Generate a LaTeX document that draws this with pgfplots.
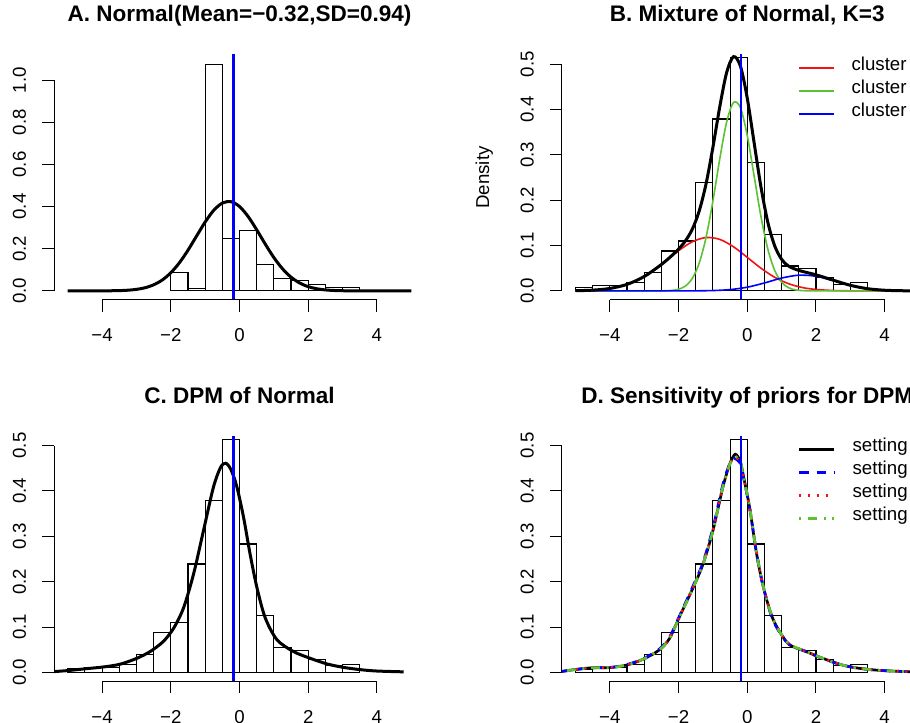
\documentclass[border=0pt]{standalone}
\usepackage{fontspec}
\setmainfont{Liberation Sans}
\usepackage{graphicx}
\usepackage{pgfplots}
\pgfplotsset{compat=1.18}
\definecolor{rred}{RGB}{240,20,20}
\definecolor{rgreen}{HTML}{5CC232}
\definecolor{rblue}{RGB}{0,0,255}

\pgfplotsset{
  rpanel/.style={
    scale only axis, width=278.25pt, height=183.75pt,
    xmin=-5.4, xmax=5.4,
    axis x line*=bottom, axis y line*=left,
    axis line style={draw=none},
    tick align=outside, major tick length=8.75pt,
    tick style={black, line width=0.75pt},
    xtick={-4,-2,0,2,4}, xticklabels={−4,−2,0,2,4},
    ticklabel style={font=\fontsize{14}{16}\selectfont},
    xticklabel style={anchor=base, yshift=-22.5pt},
    yticklabel style={anchor=east, inner sep=0pt, xshift=-12pt},
    title style={font=\bfseries\fontsize{16.9}{20}\selectfont, at={(0.5,1)}, anchor=base, yshift=18.75pt},
    clip mode=individual,
    legend style={draw=none, fill=none, at={(0.636,0.996)}, anchor=north west,
      font=\fontsize{14}{16}\selectfont, inner xsep=0pt, inner ysep=0pt, row sep=0pt,
      nodes={inner sep=0pt, text height=10.5pt, text depth=6.75pt},
      /tikz/every odd column/.append style={column sep=12.75pt}},
    legend cell align=left,
    legend image code/.code={\draw[##1] (0pt,0pt) -- (26.25pt,0pt);},
  },
  hist/.style={ybar interval, draw=black, fill=white, line width=0.85pt, forget plot},
  yhalf/.style={ymin=-0.02, ymax=0.52, ytick={0,0.1,0.2,0.3,0.4,0.5},
    yticklabels={\rotatebox{90}{0.0},\rotatebox{90}{0.1},\rotatebox{90}{0.2},\rotatebox{90}{0.3},\rotatebox{90}{0.4},\rotatebox{90}{0.5}}},
}

\begin{document}
\begin{tikzpicture}
\useasboundingbox (0,0) rectangle (682.5pt,-542.25pt);
\clip (0,0) rectangle (682.5pt,-542.25pt);

% ---------------- A ----------------
\begin{axis}[rpanel, at={(40.5pt,-225pt)}, anchor=south west,
  ymin=-0.0431, ymax=1.119, ytick={0,0.2,0.4,0.6,0.8,1.0},
  yticklabels={\rotatebox{90}{0.0},\rotatebox{90}{0.2},\rotatebox{90}{0.4},\rotatebox{90}{0.6},\rotatebox{90}{0.8},\rotatebox{90}{1.0}},
  title={A. Normal(Mean=−0.32,SD=0.94)}]
\addplot[hist] coordinates {(-2,0.089) (-1.5,0.013) (-1,1.075) (-0.5,0.249) (0,0.285) (0.5,0.125) (1,0.057) (1.5,0.048) (2,0.029) (2.5,0.015) (3,0.018) (3.5,0)};
\addplot[black, line width=2.25pt, smooth, forget plot] coordinates {
(-5,0) (-4.5,0) (-4,0.0002) (-3.5,0.0014) (-3.25,0.0033) (-3,0.0073) (-2.75,0.0150) (-2.5,0.0288) (-2.25,0.0516) (-2,0.0860) (-1.75,0.1334) (-1.5,0.1930) (-1.25,0.2602) (-1,0.3267) (-0.75,0.3823) (-0.5,0.4167) (-0.25,0.4232) (0,0.4005) (0.25,0.3531) (0.5,0.2901) (0.75,0.2220) (1,0.1583) (1.25,0.1052) (1.5,0.0651) (1.75,0.0376) (2,0.0202) (2.25,0.0101) (2.5,0.0047) (2.75,0.0020) (3,0.0008) (3.5,0.0001) (4,0) (4.5,0) (5,0)};
\addplot[rblue, line width=2pt, forget plot] coordinates {(-0.18,-1) (-0.18,2)};
\draw[line width=0.75pt] (axis cs:-4,-0.0431) -- (axis cs:4,-0.0431);
\draw[line width=0.75pt] (axis cs:-5.4,0) -- (axis cs:-5.4,1);
\end{axis}

% ---------------- B ----------------
\begin{axis}[rpanel, yhalf, at={(421.3pt,-225pt)}, anchor=south west,
  title={B. Mixture of Normal, K=3}, ylabel={Density},
  every axis y label/.style={at={([xshift=-54.5pt]axis description cs:0,0.5)}, rotate=90, anchor=base, font=\fontsize{14}{16}\selectfont}]
\addplot[hist] coordinates {(-5,0.0075) (-4.5,0.011) (-4,0.011) (-3.5,0.018) (-3,0.040) (-2.5,0.088) (-2,0.110) (-1.5,0.239) (-1,0.379) (-0.5,0.514) (0,0.283) (0.5,0.125) (1,0.055) (1.5,0.049) (2,0.029) (2.5,0.015) (3,0.018) (3.5,0)};
\addplot[rred, line width=1.2pt, smooth] coordinates {
(-5,0.0004) (-4.5,0.0017) (-4,0.0054) (-3.5,0.0144) (-3,0.0317) (-2.5,0.0581) (-2,0.0885) (-1.6,0.1083) (-1.2,0.1177) (-0.8,0.1136) (-0.4,0.0973) (0,0.074) (0.4,0.05) (0.8,0.030) (1.2,0.016) (1.6,0.0075) (2,0.0032) (2.5,0.0009) (3,0.0002) (3.5,0) (4,0) (5,0)};
\addlegendentry{cluster 1}
\addplot[rgreen, line width=1.2pt, smooth] coordinates {
(-5,0) (-3,0) (-2.6,0.0001) (-2.4,0.0003) (-2.2,0.0011) (-2.0,0.0037) (-1.8,0.0108) (-1.6,0.0275) (-1.4,0.0609) (-1.2,0.1176) (-1.0,0.198) (-0.8,0.2908) (-0.6,0.3723) (-0.4,0.4154) (-0.2,0.4042) (0,0.3428) (0.2,0.2535) (0.4,0.1635) (0.6,0.0919) (0.8,0.045) (1.0,0.0192) (1.2,0.0072) (1.4,0.0023) (1.6,0.0007) (1.8,0.0002) (2.0,0) (3,0) (5,0)};
\addlegendentry{cluster 2}
\addplot[rblue, line width=1.2pt, smooth] coordinates {
(-5,0) (-3,0) (-2,0) (-1.5,0.0002) (-1,0.0008) (-0.5,0.0029) (0,0.0082) (0.5,0.0175) (1,0.0283) (1.5,0.0347) (2,0.0323) (2.5,0.0228) (3,0.0122) (3.5,0.0049) (4,0.0015) (4.5,0.0004) (5,0.0001)};
\addlegendentry{cluster 3}
\addplot[black, line width=2.25pt, smooth, forget plot] coordinates {
(-5,0.0004) (-4.5,0.0017) (-4,0.0054) (-3.5,0.0144) (-3,0.0317) (-2.5,0.0582) (-2.2,0.0776) (-2,0.0922) (-1.8,0.1103) (-1.6,0.1359) (-1.4,0.1757) (-1.2,0.2357) (-1.0,0.3162) (-0.8,0.4058) (-0.6,0.4813) (-0.4,0.5163) (-0.2,0.4959) (0,0.425) (0.2,0.3267) (0.4,0.2288) (0.6,0.1509) (0.8,0.0991) (1.0,0.0697) (1.2,0.0549) (1.5,0.0452) (2,0.0355) (2.5,0.0237) (3,0.0124) (3.5,0.0049) (4,0.0015) (4.5,0.0004) (5,0.0001)};
\addplot[rblue, line width=2pt, forget plot] coordinates {(-0.18,-1) (-0.18,2)};
\draw[line width=0.75pt] (axis cs:-4,-0.02) -- (axis cs:4,-0.02);
\draw[line width=0.75pt] (axis cs:-5.4,0) -- (axis cs:-5.4,0.5);
\end{axis}

% ---------------- C ----------------
\begin{axis}[rpanel, yhalf, at={(40.5pt,-511.1pt)}, anchor=south west,
  title={C. DPM of Normal}]
\addplot[hist] coordinates {(-5,0.0075) (-4.5,0.011) (-4,0.011) (-3.5,0.018) (-3,0.040) (-2.5,0.088) (-2,0.110) (-1.5,0.239) (-1,0.379) (-0.5,0.514) (0,0.283) (0.5,0.125) (1,0.055) (1.5,0.049) (2,0.029) (2.5,0.015) (3,0.018) (3.5,0)};
\addplot[black, line width=2.25pt, smooth, forget plot] coordinates {
(-5.5,0.0012) (-5.0,0.004) (-4.55,0.0075) (-3.96,0.012) (-3.48,0.018) (-2.99,0.031) (-2.6,0.046) (-2.22,0.068) (-1.92,0.097) (-1.63,0.142) (-1.34,0.216) (-1.05,0.312) (-0.76,0.408) (-0.55,0.452) (-0.4,0.461) (-0.25,0.447) (-0.08,0.41) (0.12,0.341) (0.31,0.26) (0.51,0.186) (0.75,0.12) (1.09,0.072) (1.57,0.046) (2.06,0.031) (2.55,0.0186) (3.03,0.011) (3.52,0.006) (4.0,0.003) (4.78,0.0012)};
\addplot[rblue, line width=2pt, forget plot] coordinates {(-0.18,-1) (-0.18,2)};
\draw[line width=0.75pt] (axis cs:-4,-0.02) -- (axis cs:4,-0.02);
\draw[line width=0.75pt] (axis cs:-5.4,0) -- (axis cs:-5.4,0.5);
\end{axis}

% ---------------- D ----------------
\begin{axis}[rpanel, yhalf, at={(421.3pt,-511.1pt)}, anchor=south west,
  title={D. Sensitivity of priors for DPM}]
\addplot[hist] coordinates {(-5,0.0075) (-4.5,0.011) (-4,0.011) (-3.5,0.018) (-3,0.040) (-2.5,0.088) (-2,0.110) (-1.5,0.239) (-1,0.379) (-0.5,0.514) (0,0.283) (0.5,0.125) (1,0.055) (1.5,0.049) (2,0.029) (2.5,0.015) (3,0.018) (3.5,0)};
\addplot[black, line width=2pt, smooth] coordinates {
(-5.5,0.001) (-4.97,0.0067) (-4.49,0.0104) (-4.0,0.0106) (-3.52,0.016) (-3.03,0.029) (-2.55,0.05) (-2.26,0.075) (-1.97,0.123) (-1.58,0.186) (-1.29,0.238) (-1.0,0.312) (-0.71,0.408) (-0.51,0.459) (-0.35,0.481) (-0.2,0.465) (-0.13,0.44) (0.07,0.363) (0.26,0.267) (0.45,0.194) (0.70,0.127) (0.94,0.09) (1.23,0.061) (1.71,0.046) (2.2,0.031) (2.78,0.016) (3.26,0.009) (3.84,0.0045) (4.71,0.0015) (5.5,0.0005)};
\addlegendentry{setting 1}
\addplot[rblue, line width=2pt, smooth, dash pattern=on 7pt off 6pt] coordinates {
(-5.5,0.001) (-4.97,0.0065) (-4.49,0.0102) (-4.0,0.0108) (-3.52,0.017) (-3.03,0.030) (-2.55,0.052) (-2.26,0.078) (-1.97,0.125) (-1.58,0.19) (-1.29,0.242) (-1.0,0.318) (-0.71,0.414) (-0.51,0.46) (-0.38,0.472) (-0.2,0.46) (-0.13,0.437) (0.07,0.362) (0.26,0.268) (0.45,0.194) (0.70,0.125) (0.94,0.088) (1.23,0.061) (1.71,0.046) (2.2,0.030) (2.78,0.016) (3.26,0.009) (3.84,0.0045) (4.71,0.0015) (5.5,0.0005)};
\addlegendentry{setting 2}
\addplot[rred, line width=2pt, smooth, dash pattern=on 1.6pt off 5pt] coordinates {
(-5.5,0.001) (-4.97,0.0066) (-4.49,0.0103) (-4.0,0.0106) (-3.52,0.016) (-3.03,0.029) (-2.55,0.05) (-2.26,0.076) (-1.97,0.123) (-1.58,0.187) (-1.29,0.239) (-1.0,0.313) (-0.71,0.409) (-0.51,0.459) (-0.35,0.475) (-0.2,0.462) (-0.13,0.439) (0.07,0.363) (0.26,0.268) (0.45,0.195) (0.70,0.127) (0.94,0.09) (1.23,0.061) (1.71,0.046) (2.2,0.031) (2.78,0.016) (3.26,0.009) (3.84,0.0045) (4.71,0.0015) (5.5,0.0005)};
\addlegendentry{setting 3}
\addplot[rgreen, line width=2pt, smooth, dash pattern=on 1.6pt off 5pt on 6.6pt off 5pt] coordinates {
(-5.5,0.001) (-4.97,0.0066) (-4.49,0.0103) (-4.0,0.0105) (-3.52,0.016) (-3.03,0.029) (-2.55,0.05) (-2.26,0.075) (-1.97,0.122) (-1.58,0.186) (-1.29,0.238) (-1.0,0.312) (-0.71,0.408) (-0.51,0.458) (-0.35,0.476) (-0.2,0.463) (-0.13,0.44) (0.07,0.364) (0.26,0.268) (0.45,0.195) (0.70,0.128) (0.94,0.09) (1.23,0.062) (1.71,0.046) (2.2,0.031) (2.78,0.016) (3.26,0.009) (3.84,0.0045) (4.71,0.0015) (5.5,0.0005)};
\addlegendentry{setting 4}
\addplot[rblue, line width=2pt, forget plot] coordinates {(-0.18,-1) (-0.18,2)};
\draw[line width=0.75pt] (axis cs:-4,-0.02) -- (axis cs:4,-0.02);
\draw[line width=0.75pt] (axis cs:-5.4,0) -- (axis cs:-5.4,0.5);
\end{axis}
\end{tikzpicture}
\end{document}
